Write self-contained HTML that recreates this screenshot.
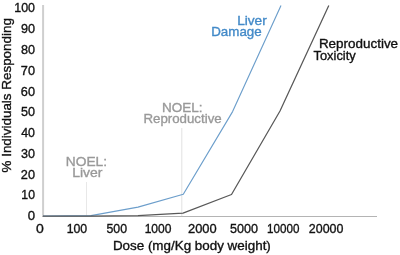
<!DOCTYPE html>
<html><head><meta charset="utf-8">
<style>
html,body{margin:0;padding:0;background:#fff;width:400px;height:255px;overflow:hidden}
svg{display:block;will-change:transform}
text{font-family:"Liberation Sans",sans-serif;font-size:13px;stroke-width:0.35px}
</style></head>
<body>
<svg width="400" height="255" viewBox="0 0 400 255">
<line x1="43.1" y1="5" x2="43.1" y2="217" stroke="#cfcfcf" stroke-width="2"/>
<line x1="42" y1="216.5" x2="377" y2="216.5" stroke="#b4b4b4" stroke-width="1.2"/>
<line x1="86.5" y1="182" x2="86.5" y2="216" stroke="#e8e8e8" stroke-width="1"/>
<line x1="181.8" y1="128" x2="181.8" y2="216" stroke="#e2e2e2" stroke-width="1"/>
<polyline fill="none" stroke="#6c9ecb" stroke-width="1.15" stroke-linejoin="round" points="43,216 91,215.6 138,207.1 183.3,194.3 232.6,111.6 281,5.5"/>
<polyline fill="none" stroke="#585858" stroke-width="1.25" stroke-linejoin="round" points="43,216 88,216 138,215.6 183,213.2 231.5,194.5 280,111 328.8,5.5"/>
<text x="14.25" y="12.40" textLength="20.73" lengthAdjust="spacingAndGlyphs" fill="#111" stroke="#111">100</text>
<text x="20.91" y="33.18" textLength="14.09" lengthAdjust="spacingAndGlyphs" fill="#111" stroke="#111">90</text>
<text x="20.95" y="53.96" textLength="14.04" lengthAdjust="spacingAndGlyphs" fill="#111" stroke="#111">80</text>
<text x="20.85" y="74.74" textLength="14.15" lengthAdjust="spacingAndGlyphs" fill="#111" stroke="#111">70</text>
<text x="20.85" y="95.52" textLength="14.14" lengthAdjust="spacingAndGlyphs" fill="#111" stroke="#111">60</text>
<text x="21.00" y="116.30" textLength="14.00" lengthAdjust="spacingAndGlyphs" fill="#111" stroke="#111">50</text>
<text x="21.22" y="137.08" textLength="13.77" lengthAdjust="spacingAndGlyphs" fill="#111" stroke="#111">40</text>
<text x="21.02" y="157.86" textLength="13.97" lengthAdjust="spacingAndGlyphs" fill="#111" stroke="#111">30</text>
<text x="20.86" y="178.64" textLength="14.14" lengthAdjust="spacingAndGlyphs" fill="#111" stroke="#111">20</text>
<text x="21.37" y="199.42" textLength="13.61" lengthAdjust="spacingAndGlyphs" fill="#111" stroke="#111">10</text>
<text x="27.69" y="220.20" textLength="7.33" lengthAdjust="spacingAndGlyphs" fill="#111" stroke="#111">0</text>
<text x="35.95" y="233.00" textLength="7.79" lengthAdjust="spacingAndGlyphs" fill="#111" stroke="#111">0</text>
<text x="66.66" y="233.00" textLength="20.57" lengthAdjust="spacingAndGlyphs" fill="#111" stroke="#111">100</text>
<text x="106.51" y="233.00" textLength="20.58" lengthAdjust="spacingAndGlyphs" fill="#111" stroke="#111">500</text>
<text x="144.68" y="233.00" textLength="26.79" lengthAdjust="spacingAndGlyphs" fill="#111" stroke="#111">1000</text>
<text x="188.05" y="233.00" textLength="28.65" lengthAdjust="spacingAndGlyphs" fill="#111" stroke="#111">2000</text>
<text x="229.90" y="233.00" textLength="28.00" lengthAdjust="spacingAndGlyphs" fill="#111" stroke="#111">5000</text>
<text x="267.11" y="233.00" textLength="32.34" lengthAdjust="spacingAndGlyphs" fill="#111" stroke="#111">10000</text>
<text x="308.87" y="233.00" textLength="34.61" lengthAdjust="spacingAndGlyphs" fill="#111" stroke="#111">20000</text>
<text x="112.90" y="250.00" textLength="157.93" lengthAdjust="spacingAndGlyphs" fill="#111" stroke="#111">Dose (mg/Kg body weight)</text>
<g transform="translate(11.0,0) rotate(-90)"><text x="-172.48" y="0.00" textLength="154.34" lengthAdjust="spacingAndGlyphs" fill="#111" stroke="#111">% Individuals Responding</text></g>
<text x="237.18" y="25.00" textLength="29.54" lengthAdjust="spacingAndGlyphs" fill="#438ac8" stroke="#438ac8">Liver</text>
<text x="211.20" y="36.40" textLength="50.49" lengthAdjust="spacingAndGlyphs" fill="#438ac8" stroke="#438ac8">Damage</text>
<text x="318.90" y="47.50" textLength="79.20" lengthAdjust="spacingAndGlyphs" fill="#111" stroke="#111">Reproductive</text>
<text x="313.47" y="60.30" textLength="42.25" lengthAdjust="spacingAndGlyphs" fill="#111" stroke="#111">Toxicity</text>
<text x="162.09" y="111.90" textLength="40.44" lengthAdjust="spacingAndGlyphs" fill="#999" stroke="#999" stroke-width="0.2px">NOEL:</text>
<text x="143.41" y="122.50" textLength="78.28" lengthAdjust="spacingAndGlyphs" fill="#999" stroke="#999" stroke-width="0.2px">Reproductive</text>
<text x="65.77" y="165.50" textLength="41.28" lengthAdjust="spacingAndGlyphs" fill="#999" stroke="#999" stroke-width="0.2px">NOEL:</text>
<text x="72.25" y="176.50" textLength="30.28" lengthAdjust="spacingAndGlyphs" fill="#999" stroke="#999" stroke-width="0.2px">Liver</text>
</svg>
</body></html>
